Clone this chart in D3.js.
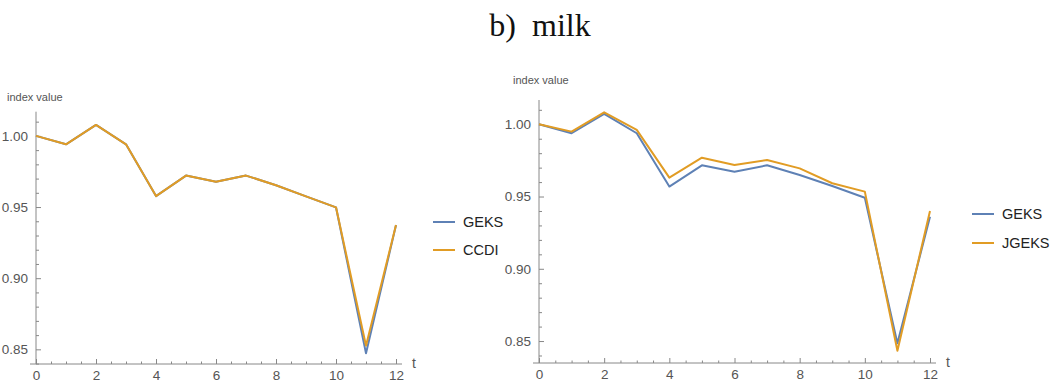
<!DOCTYPE html>
<html><head><meta charset="utf-8">
<script src="https://cdn.jsdelivr.net/npm/d3@7"></script>
<style>
html,body{margin:0;padding:0;background:#fff;}
svg{display:block;}
</style></head>
<body>
<svg id="chart" width="1062" height="383"></svg>
<script>
// ---- data ----
const periods = [0,1,2,3,4,5,6,7,8,9,10,11,12];
const geksLeft  = [1.000,0.9941,1.0077,0.9941,0.9577,0.9721,0.9678,0.9721,0.9653,0.9575,0.9498,0.8472,0.9373];
const ccdi      = [1.000,0.9941,1.0077,0.9941,0.9577,0.9721,0.9678,0.9721,0.9653,0.9575,0.9498,0.8526,0.9373];
const geksRight = [1.000,0.9938,1.0072,0.9938,0.9569,0.9716,0.9672,0.9716,0.9649,0.9573,0.9492,0.8484,0.9360];
const jgeks     = [1.000,0.9949,1.0083,0.9961,0.9631,0.9769,0.9718,0.9753,0.9695,0.9592,0.9534,0.8433,0.9400];
const xMajorTicks = [0,2,4,6,8,10,12];
const yMajorTicks = [0.85,0.90,0.95,1.00];
const titleText = "b)  milk";
const yAxisLabel = "index value";
const xAxisLabel = "t";
const legendLeft = ["GEKS","CCDI"];
const legendRight = ["GEKS","JGEKS"];

const colBlue = "#5e81b5", colOrange = "#e19c24";
const axisCol = "#888", labelCol = "#555";

const svg = d3.select("#chart");

svg.append("text").attr("x",540).attr("y",36).attr("text-anchor","middle")
  .attr("font-family","'Liberation Serif','Times New Roman',serif").attr("font-size",32)
  .attr("fill","#111").style("white-space","pre").text(titleText);

function panel(cfg){
  const x = d3.scaleLinear().domain([0,12]).range(cfg.xr);
  const y = d3.scaleLinear().domain(cfg.yd).range(cfg.yr);
  const g = svg.append("g");
  const x0 = x(0), yB = cfg.yr[0];

  const xMinor = d3.range(0, 12.001, 0.5).filter(v => !xMajorTicks.includes(v));
  const yMinor = d3.range(84, 102, 1).map(v=>v/100).filter(v => v>=cfg.yd[0] && v<=cfg.yd[1] && !yMajorTicks.some(m=>Math.abs(m-v)<1e-9));

  const gx = g.append("g").attr("transform",`translate(0,${yB})`)
    .call(d3.axisBottom(x).tickValues(xMajorTicks).tickSize(-5).tickPadding(6).tickFormat(d3.format("d")));
  const gxm = g.append("g").attr("transform",`translate(0,${yB})`)
    .call(d3.axisBottom(x).tickValues(xMinor).tickSize(-2.5).tickFormat(""));
  const gy = g.append("g").attr("transform",`translate(${x0},0)`)
    .call(d3.axisLeft(y).tickValues(yMajorTicks).tickSize(-5).tickPadding(8).tickFormat(d3.format(".2f")));
  const gym = g.append("g").attr("transform",`translate(${x0},0)`)
    .call(d3.axisLeft(y).tickValues(yMinor).tickSize(-3).tickFormat(""));
  [gx,gxm,gy,gym].forEach(a=>{
    a.select(".domain").remove();
    a.selectAll("line").attr("stroke",axisCol).attr("stroke-width",1);
    a.selectAll("text").attr("fill",labelCol).attr("font-size",13.5)
      .attr("font-family","'Liberation Sans',Arial,sans-serif");
  });
  g.append("line").attr("x1",cfg.xr[0]-6).attr("x2",cfg.xr[1]+6).attr("y1",yB).attr("y2",yB)
    .attr("stroke",axisCol).attr("stroke-width",1);
  g.append("line").attr("x1",x0).attr("x2",x0).attr("y1",cfg.yr[1]).attr("y2",yB)
    .attr("stroke",axisCol).attr("stroke-width",1);

  g.append("text").attr("x",cfg.ylabX).attr("y",cfg.ylabY).attr("fill",labelCol)
    .attr("font-size",11).attr("font-family","'Liberation Sans',Arial,sans-serif").text(yAxisLabel);
  g.append("text").attr("x",cfg.xr[1]+16).attr("y",yB+4).attr("fill",labelCol)
    .attr("font-size",14).attr("font-family","'Liberation Sans',Arial,sans-serif").text(xAxisLabel);

  const line = d3.line().x((d,i)=>x(periods[i])).y(d=>y(d));
  cfg.series.forEach((s,i)=>{
    g.append("path").datum(s.v).attr("d",line).attr("fill","none")
      .attr("stroke",s.c).attr("stroke-width",2).attr("stroke-linejoin","round");
  });

  cfg.legend.forEach((name,i)=>{
    const ly = cfg.legY + i*cfg.legStep;
    g.append("line").attr("x1",cfg.legX).attr("x2",cfg.legX+22).attr("y1",ly).attr("y2",ly)
      .attr("stroke",cfg.series[i].c).attr("stroke-width",2);
    g.append("text").attr("x",cfg.legX+30).attr("y",ly+5).attr("fill","#222")
      .attr("font-size",14.5).attr("font-family","'Liberation Sans',Arial,sans-serif").text(name);
  });
}

panel({xr:[36,396], yd:[0.8397,1.017], yr:[364,111.7], ylabX:7, ylabY:101,
  series:[{v:geksLeft,c:colBlue},{v:ccdi,c:colOrange}], legend:legendLeft,
  legX:433, legY:222, legStep:28});
panel({xr:[539,930], yd:[0.8348,1.0168], yr:[363,100], ylabX:513, ylabY:84,
  series:[{v:geksRight,c:colBlue},{v:jgeks,c:colOrange}], legend:legendRight,
  legX:972, legY:214, legStep:29});
</script>
</body></html>
